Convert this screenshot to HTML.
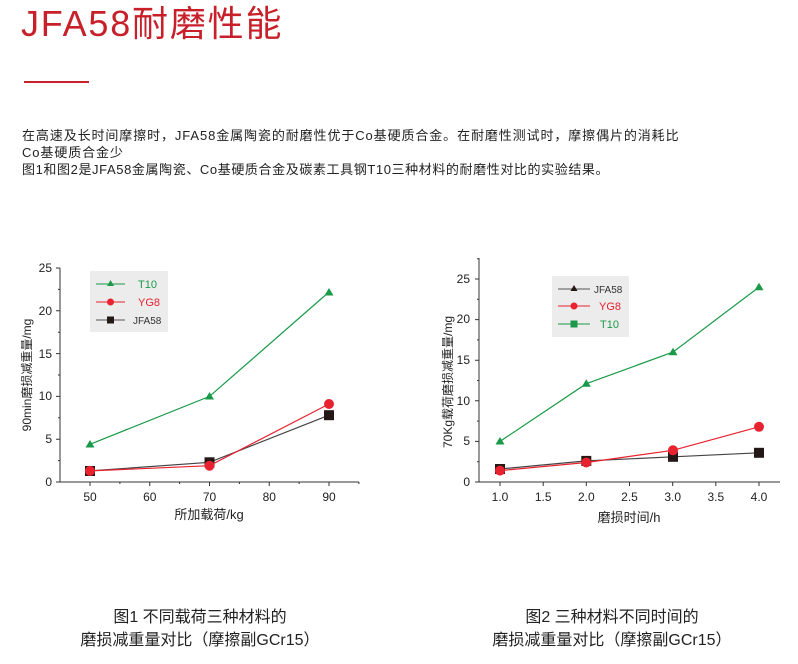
<!DOCTYPE html>
<html><head><meta charset="utf-8"><style>
body{margin:0;background:#fff;}
svg{display:block;font-family:"Liberation Sans","Noto Sans CJK SC",sans-serif;}
</style></head><body>
<svg width="798" height="664" viewBox="0 0 798 664" xmlns="http://www.w3.org/2000/svg">
<text x="21" y="36" font-size="36" fill="#c8202a" letter-spacing="1.8">JFA58耐磨性能</text>
<rect x="24" y="81" width="65" height="2" fill="#c8202a"/>
<g font-size="13" fill="#222" letter-spacing="0.9">
<text x="22" y="140">在高速及长时间摩擦时，JFA58金属陶瓷的耐磨性优于Co基硬质合金。在耐磨性测试时，摩擦偶片的消耗比</text>
<text x="22" y="157">Co基硬质合金少</text>
<text x="22" y="174" letter-spacing="0.6">图1和图2是JFA58金属陶瓷、Co基硬质合金及碳素工具钢T10三种材料的耐磨性对比的实验结果。</text>
</g>

<!-- Chart 1 -->
<g stroke="#333" stroke-width="1" fill="none">
<path d="M60,268 V482 H359"/>
<path d="M60,482 h-4 M60,439.2 h-4 M60,396.4 h-4 M60,353.6 h-4 M60,310.8 h-4 M60,268 h-4"/>
<path d="M60,460.6 h-2 M60,417.8 h-2 M60,375 h-2 M60,332.2 h-2 M60,289.4 h-2"/>
<path d="M90,482 v4 M149.75,482 v4 M209.5,482 v4 M269.25,482 v4 M329,482 v4"/>
<path d="M119.9,482 v2 M179.6,482 v2 M239.4,482 v2 M299.1,482 v2 M358.9,482 v2"/>
</g>
<g font-size="12" fill="#222" text-anchor="end">
<text x="52" y="486">0</text><text x="52" y="443">5</text><text x="52" y="400">10</text><text x="52" y="358">15</text><text x="52" y="315">20</text><text x="52" y="272">25</text>
</g>
<g font-size="12" fill="#222" text-anchor="middle">
<text x="90" y="501">50</text><text x="149.75" y="501">60</text><text x="209.5" y="501">70</text><text x="269.25" y="501">80</text><text x="329" y="501">90</text>
</g>
<text x="209" y="519" font-size="13" fill="#222" text-anchor="middle">所加载荷/kg</text>
<text transform="translate(31,375) rotate(-90)" font-size="12" fill="#222" text-anchor="middle">90min磨损减重量/mg</text>
<rect x="90" y="271" width="78" height="61" fill="#ececec"/>
<line x1="96" y1="284" x2="125" y2="284" stroke="#1a9a48"/><path d="M110.5,280 l3.5,6 h-7z" fill="#1a9a48"/>
<text x="138" y="288" font-size="11" fill="#1a9a48">T10</text>
<line x1="96" y1="302" x2="125" y2="302" stroke="#e8222e"/><circle cx="110.5" cy="302" r="3.5" fill="#e8222e"/>
<text x="138" y="306" font-size="11" fill="#e8222e">YG8</text>
<line x1="96" y1="320" x2="125" y2="320" stroke="#555"/><rect x="107" y="316.5" width="7" height="7" fill="#231815"/>
<text x="133" y="324" font-size="10" fill="#333">JFA58</text>

<polyline points="90,444.3 209.5,396.4 329,292" fill="none" stroke="#1a9a48" stroke-width="1.2"/>
<g fill="#1a9a48"><path d="M90,440 l4.5,7.5 h-9z"/><path d="M209.5,392 l4.5,7.5 h-9z"/><path d="M329,288 l4.5,7.5 h-9z"/></g>
<polyline points="90,470.9 209.5,462.3 329,415.2" fill="none" stroke="#444" stroke-width="1.2"/>
<g fill="#231815"><rect x="85" y="466" width="10" height="10"/><rect x="204.5" y="457.3" width="10" height="10"/><rect x="324" y="410.2" width="10" height="10"/></g>
<polyline points="90,470.9 209.5,465.7 329,404" fill="none" stroke="#e8222e" stroke-width="1.2"/>
<g fill="#e8222e"><circle cx="90" cy="470.9" r="5"/><circle cx="209.5" cy="465.7" r="5"/><circle cx="329" cy="404" r="5"/></g>

<!-- Chart 2 -->
<g stroke="#333" stroke-width="1" fill="none">
<path d="M479,258 V482 H780"/>
<path d="M479,482 h-4 M479,441.4 h-4 M479,400.8 h-4 M479,360.2 h-4 M479,319.6 h-4 M479,279 h-4"/>
<path d="M479,461.7 h-2 M479,421.1 h-2 M479,380.5 h-2 M479,339.9 h-2 M479,299.3 h-2 M479,258.7 h-2"/>
<path d="M500,482 v4 M543.2,482 v4 M586.3,482 v4 M629.5,482 v4 M672.7,482 v4 M715.8,482 v4 M759,482 v4"/>
</g>
<g font-size="12" fill="#222" text-anchor="end">
<text x="470" y="486">0</text><text x="470" y="445">5</text><text x="470" y="405">10</text><text x="470" y="364">15</text><text x="470" y="323">20</text><text x="470" y="283">25</text>
</g>
<g font-size="12" fill="#222" text-anchor="middle">
<text x="500" y="501">1.0</text><text x="543.2" y="501">1.5</text><text x="586.3" y="501">2.0</text><text x="629.5" y="501">2.5</text><text x="672.7" y="501">3.0</text><text x="715.8" y="501">3.5</text><text x="759" y="501">4.0</text>
</g>
<text x="629" y="522" font-size="13" fill="#222" text-anchor="middle">磨损时间/h</text>
<text transform="translate(452,382) rotate(-90)" font-size="12" fill="#222" text-anchor="middle">70Kg载荷磨损减重量/mg</text>
<rect x="552" y="276" width="77" height="61" fill="#ececec"/>
<line x1="558" y1="289" x2="590" y2="289" stroke="#555"/><path d="M574,285 l3.5,6 h-7z" fill="#231815"/>
<text x="594" y="293" font-size="10" fill="#333">JFA58</text>
<line x1="558" y1="306" x2="590" y2="306" stroke="#e8222e"/><circle cx="574" cy="306" r="3.5" fill="#e8222e"/>
<text x="599" y="310" font-size="11" fill="#e8222e">YG8</text>
<line x1="558" y1="324" x2="590" y2="324" stroke="#1a9a48"/><rect x="570.5" y="320.5" width="7" height="7" fill="#1a9a48"/>
<text x="600" y="328" font-size="11" fill="#1a9a48">T10</text>

<polyline points="500,441.4 586.3,383.7 673,352.1 759,287.1" fill="none" stroke="#1a9a48" stroke-width="1.2"/>
<g fill="#1a9a48"><path d="M500,437 l4.5,7.5 h-9z"/><path d="M586.3,379.3 l4.5,7.5 h-9z"/><path d="M673,347.7 l4.5,7.5 h-9z"/><path d="M759,282.7 l4.5,7.5 h-9z"/></g>
<polyline points="500,469 586.3,460.9 673,456.8 759,452.8" fill="none" stroke="#444" stroke-width="1.2"/>
<g fill="#231815"><rect x="495" y="464" width="10" height="10"/><rect x="581.3" y="455.9" width="10" height="10"/><rect x="668" y="451.8" width="10" height="10"/><rect x="754" y="447.8" width="10" height="10"/></g>
<polyline points="500,470.6 586.3,462.5 673,450.3 759,426.8" fill="none" stroke="#e8222e" stroke-width="1.2"/>
<g fill="#e8222e"><circle cx="500" cy="470.6" r="5"/><circle cx="586.3" cy="462.5" r="5"/><circle cx="673" cy="450.3" r="5"/><circle cx="759" cy="426.8" r="5"/></g>

<g font-size="16" fill="#222" text-anchor="middle">
<text x="200" y="622">图1 不同载荷三种材料的</text>
<text x="200" y="645">磨损减重量对比（摩擦副GCr15）</text>
<text x="612" y="622">图2 三种材料不同时间的</text>
<text x="612" y="645">磨损减重量对比（摩擦副GCr15）</text>
</g>
</svg>
</body></html>
